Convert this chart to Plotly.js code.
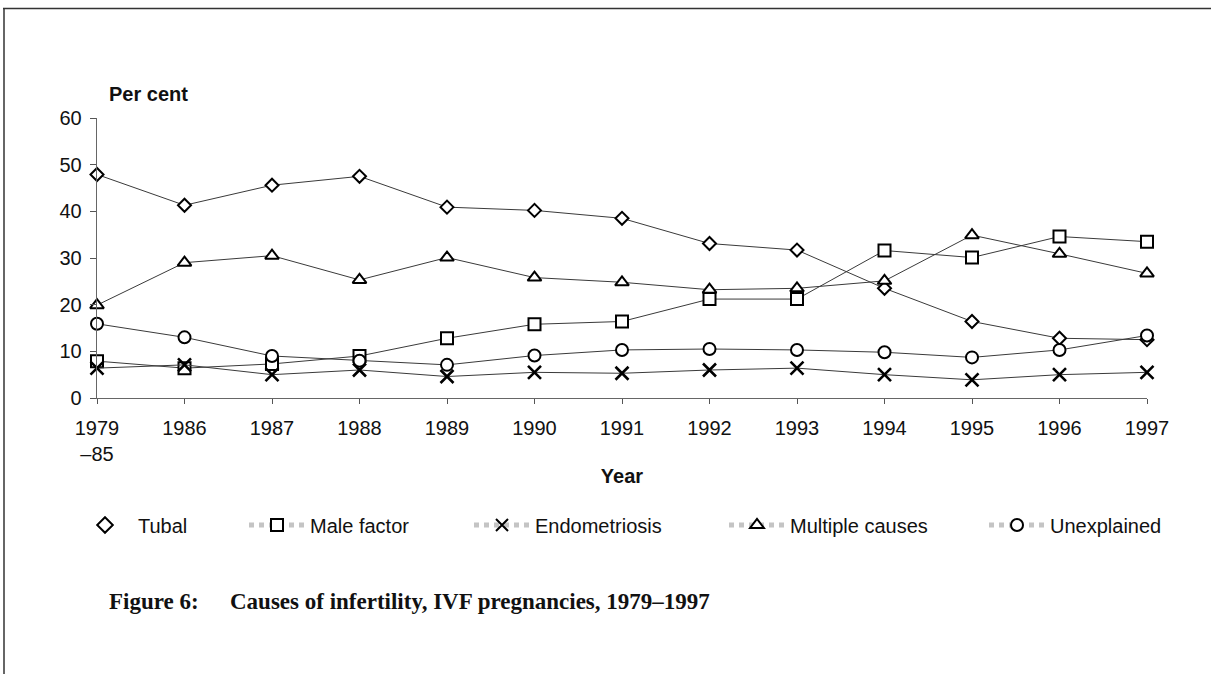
<!DOCTYPE html>
<html>
<head>
<meta charset="utf-8">
<script src="https://cdn.plot.ly/plotly-3.0.1.min.js"></script>
<style>
  html, body { margin: 0; padding: 0; background: #fff; }
  #chart { width: 1211px; height: 674px; }
</style>
</head>
<body>
<div id="chart"></div>
<script>
// ---- Data ----
const years = ["1979<br>–85", "1986", "1987", "1988", "1989", "1990", "1991",
               "1992", "1993", "1994", "1995", "1996", "1997"];
const tubal       = [47.9, 41.3, 45.6, 47.5, 40.9, 40.2, 38.5, 33.1, 31.7, 23.5, 16.4, 12.8, 12.5];
const maleFactor  = [7.9, 6.4, 7.3, 9.0, 12.8, 15.8, 16.4, 21.2, 21.2, 31.6, 30.1, 34.6, 33.5];
const endometriosis = [6.4, 7.1, 5.0, 6.0, 4.6, 5.5, 5.3, 6.0, 6.4, 5.0, 3.9, 5.0, 5.5];
const multipleCauses = [19.9, 29.0, 30.5, 25.3, 30.1, 25.8, 24.8, 23.2, 23.5, 25.1, 34.9, 30.9, 26.7];
const unexplained = [15.9, 13.0, 9.0, 8.0, 7.1, 9.1, 10.3, 10.5, 10.3, 9.8, 8.7, 10.3, 13.4];
const seriesNames = ["Tubal", "Male factor", "Endometriosis", "Multiple causes", "Unexplained"];
const yTicks = [0, 10, 20, 30, 40, 50, 60];

// ---- Styling ----
const FONT = "Liberation Sans, Arial, sans-serif";
const lineStyle = { color: "#3a3a3a", width: 1 };
const symbols = ["diamond", "square", "x-thin-open", "triangle-up", "circle"];
const sizes = [10, 12, 13, 12, 12];
const legendWidths = [101, 154, 184, 189, 120];
const allSeries = [tubal, maleFactor, endometriosis, multipleCauses, unexplained];

function markerFor(i, sz) {
  const isX = symbols[i] === "x-thin-open";
  return { symbol: symbols[i], size: sz, color: isX ? "#000" : "#ffffff",
           line: { color: "#000", width: isX ? 2.6 : 2 } };
}

const traces = [];
allSeries.forEach((vals, i) => {
  traces.push({
    type: "scatter", mode: "lines+markers",
    x: years, y: vals, name: seriesNames[i], showlegend: false,
    line: lineStyle,
    marker: markerFor(i, sizes[i]),
    cliponaxis: false, hoverinfo: "x+y+name"
  });
});
// legend entries
allSeries.forEach((vals, i) => {
  traces.push({
    type: "scatter", mode: i === 0 ? "markers" : "lines+markers",
    x: [null], y: [null], name: seriesNames[i], showlegend: true,
    legendwidth: legendWidths[i],
    line: { color: "#c4c4c4", width: 1, dash: "dot" },
    marker: markerFor(i, sizes[i])
  });
});

const L = 97, R = 1147, T = 118, B = 398;
const px = v => (v - L) / (R - L);
const py = v => (B - v) / (B - T);

const layout = {
  width: 1211, height: 674,
  margin: { l: L, r: 1211 - R, t: T, b: 674 - B, pad: 0 },
  paper_bgcolor: "#fff", plot_bgcolor: "#fff",
  font: { family: FONT, size: 20, color: "#111" },
  showlegend: true,
  xaxis: {
    type: "category", range: [0, years.length - 1],
    showgrid: false, zeroline: false,
    showline: true, linecolor: "#666", linewidth: 1.2,
    ticks: "outside", ticklen: 5, tickwidth: 1, tickcolor: "#555",
    ticklabelstandoff: 7,
    tickfont: { family: FONT, size: 20, color: "#111" },
    title: { text: "<b>Year</b>", font: { family: FONT, size: 20, color: "#111" }, standoff: 4 },
    fixedrange: true
  },
  yaxis: {
    range: [0, 60], tickvals: yTicks,
    showgrid: false, zeroline: false,
    showline: true, linecolor: "#666", linewidth: 1.3,
    ticks: "outside", ticklen: 6, tickwidth: 1, tickcolor: "#555",
    ticklabelstandoff: 4,
    tickfont: { family: FONT, size: 20, color: "#111" },
    fixedrange: true
  },
  legend: {
    orientation: "h", xref: "paper", yref: "paper",
    x: px(72), xanchor: "left",
    y: py(525), yanchor: "middle",
    itemwidth: 56, itemsizing: "constant",
    font: { family: FONT, size: 20, color: "#111" },
    bgcolor: "rgba(0,0,0,0)", borderwidth: 0, tracegroupgap: 0
  },
  annotations: [
    { text: "<b>Per cent</b>", xref: "paper", yref: "paper",
      x: px(107), y: py(94), xanchor: "left", yanchor: "middle",
      showarrow: false, font: { family: FONT, size: 20, color: "#111" } },
    { text: "<b>Figure 6:</b>", xref: "paper", yref: "paper",
      x: px(107), y: py(601), xanchor: "left", yanchor: "middle",
      showarrow: false, font: { family: "Liberation Serif, serif", size: 23, color: "#111" } },
    { text: "<b>Causes of infertility, IVF pregnancies, 1979–1997</b>", xref: "paper", yref: "paper",
      x: px(228), y: py(601), xanchor: "left", yanchor: "middle",
      showarrow: false, font: { family: "Liberation Serif, serif", size: 23, color: "#111" } }
  ],
  shapes: [
    { type: "line", xref: "paper", yref: "paper",
      x0: px(3), x1: px(1211), y0: py(8.5), y1: py(8.5),
      line: { color: "#333", width: 1.5 } },
    { type: "line", xref: "paper", yref: "paper",
      x0: px(4), x1: px(4), y0: py(8.5), y1: py(674),
      line: { color: "#333", width: 1.5 } }
  ]
};

Plotly.newPlot("chart", traces, layout, { displayModeBar: false, staticPlot: true });
</script>
</body>
</html>
